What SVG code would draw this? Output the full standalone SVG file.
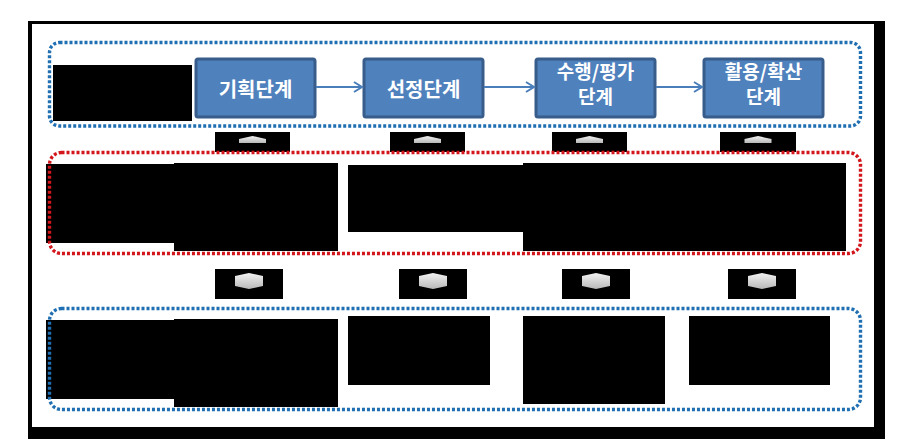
<svg xmlns="http://www.w3.org/2000/svg" width="900" height="448" viewBox="0 0 900 448">
<style>
.blk{fill:#000}
.stage rect{fill:#4F81BD;stroke:#385D8A;stroke-width:3}
.stage text{fill:#fff;font-family:"Noto Sans CJK KR","Noto Sans",sans-serif;font-weight:bold;font-size:20px;text-anchor:middle}
.stage text.two{font-size:19px}
.dotB{fill:none;stroke:#1F6FB2;stroke-width:3.4;stroke-dasharray:3 2}
.dotR{fill:none;stroke:#D2161B;stroke-width:3.4;stroke-dasharray:3 2}
.conn line{stroke:#4A7EBB;stroke-width:2}
.ico{fill:url(#g)}
</style>
<defs>
<linearGradient id="g" x1="0" y1="0" x2="0" y2="1">
<stop offset="0" stop-color="#f2f2f2"/>
<stop offset="1" stop-color="#b8b8b8"/>
</linearGradient>
<marker id="ah" markerWidth="12" markerHeight="12" refX="10" refY="6" orient="auto" markerUnits="userSpaceOnUse">
<path d="M2,1 L10,6 L2,11" fill="none" stroke="#4A7EBB" stroke-width="2"/>
</marker>
</defs>
<rect x="0" y="0" width="900" height="448" fill="#fff"/>
<!-- frame -->
<rect x="28" y="21" width="857" height="418" fill="#000"/>
<rect x="32" y="24" width="842" height="403" fill="#fff"/>

<!-- top section -->
<g id="top-label"><rect class="blk" x="53" y="65" width="139" height="56"/></g>
<g id="s1" class="stage"><rect x="196" y="59" width="119" height="58" rx="2"/><text x="255.5" y="97">기획단계</text></g>
<g id="s2" class="stage"><rect x="364" y="59" width="119" height="58" rx="2"/><text x="423.5" y="97">선정단계</text></g>
<g id="s3" class="stage"><rect x="536" y="59" width="119" height="58" rx="2"/><text class="two" x="595.5" y="79">수행/평가</text><text class="two" x="595.5" y="104">단계</text></g>
<g id="s4" class="stage"><rect x="704" y="59" width="119" height="58" rx="2"/><text class="two" x="763.5" y="79">활용/확산</text><text class="two" x="763.5" y="104">단계</text></g>
<g id="connectors" class="conn">
<line x1="316" y1="87" x2="362" y2="87" marker-end="url(#ah)"/>
<line x1="484" y1="87" x2="534" y2="87" marker-end="url(#ah)"/>
<line x1="656" y1="87" x2="702" y2="87" marker-end="url(#ah)"/>
</g>

<!-- row 1 up markers -->
<g id="up1"><rect class="blk" x="215" y="132" width="75" height="20"/><polygon class="ico" points="239,143 239,139 252.5,136 266,139 266,143"/></g>
<g id="up2"><rect class="blk" x="390" y="132" width="75" height="20"/><polygon class="ico" points="414,143 414,139 427.5,136 441,139 441,143"/></g>
<g id="up3"><rect class="blk" x="552" y="132" width="75" height="20"/><polygon class="ico" points="576,143 576,139 589.5,136 603,139 603,143"/></g>
<g id="up4"><rect class="blk" x="720" y="132" width="76" height="20"/><polygon class="ico" points="744.5,143 744.5,139 758,136 771.5,139 771.5,143"/></g>

<!-- middle section -->
<g id="m1"><rect class="blk" x="46" y="164" width="128" height="79"/></g>
<g id="m2"><rect class="blk" x="174" y="163" width="164" height="88"/></g>
<g id="m3"><rect class="blk" x="348" y="165" width="175" height="67"/></g>
<g id="m4"><rect class="blk" x="523" y="163" width="323" height="88"/></g>

<!-- row 2 markers -->
<g id="h1"><rect class="blk" x="215" y="269" width="68" height="30"/><polygon class="ico" points="235,276 249,273 263,276 263,286 249,289 235,286"/></g>
<g id="h2"><rect class="blk" x="399" y="269" width="68" height="30"/><polygon class="ico" points="419,276 433,273 447,276 447,286 433,289 419,286"/></g>
<g id="h3"><rect class="blk" x="562" y="269" width="68" height="30"/><polygon class="ico" points="582,276 596,273 610,276 610,286 596,289 582,286"/></g>
<g id="h4"><rect class="blk" x="728" y="269" width="68" height="30"/><polygon class="ico" points="748,276 762,273 776,276 776,286 762,289 748,286"/></g>

<!-- bottom section -->
<g id="b1"><rect class="blk" x="46" y="320" width="128" height="79"/></g>
<g id="b2"><rect class="blk" x="174" y="319" width="164" height="88"/></g>
<g id="b3"><rect class="blk" x="348" y="316" width="142" height="69"/></g>
<g id="b4"><rect class="blk" x="523" y="316" width="142" height="88"/></g>
<g id="b5"><rect class="blk" x="689" y="316" width="141" height="69"/></g>

<!-- dotted group borders -->
<g id="groups">
<rect class="dotB" x="49.5" y="42.5" width="811" height="83.5" rx="10"/>
<rect class="dotR" x="49.5" y="152.5" width="811" height="101" rx="12"/>
<rect class="dotB" x="49.5" y="308.5" width="811" height="101" rx="12"/>
</g>
</svg>
